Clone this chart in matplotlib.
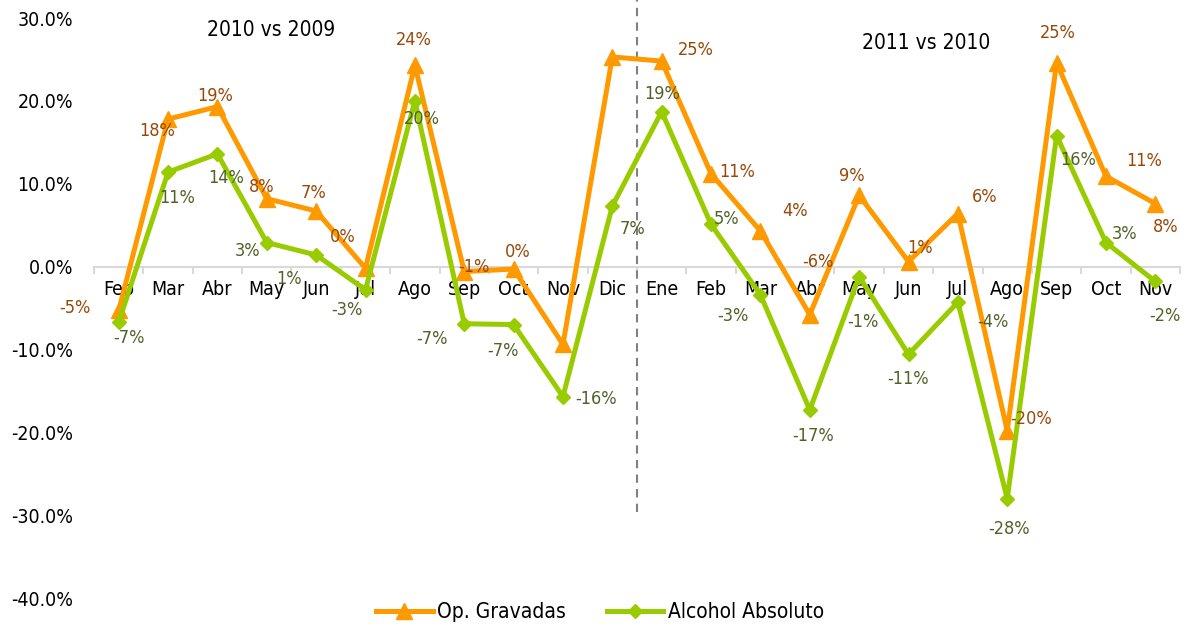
import matplotlib
matplotlib.use("Agg")
import matplotlib.pyplot as plt

plt.rcParams['font.family'] = ['DejaVu Sans']
plt.rcParams['font.stretch'] = 'condensed'

months = ["Feb", "Mar", "Abr", "May", "Jun", "Jul", "Ago", "Sep", "Oct", "Nov", "Dic",
          "Ene", "Feb", "Mar", "Abr", "May", "Jun", "Jul", "Ago", "Sep", "Oct", "Nov"]

# % change vs same month of previous year
op_gravadas = [-5.3, 17.8, 19.3, 8.2, 6.7, -0.2, 24.3, -0.6, -0.3, -9.4, 25.3,
               24.8, 11.2, 4.3, -5.8, 8.6, 0.6, 6.4, -19.8, 24.6, 10.9, 7.6]
alcohol_abs = [-6.7, 11.4, 13.6, 2.9, 1.4, -2.8, 20.0, -6.9, -7.0, -15.7, 7.3,
               18.7, 5.1, -3.4, -17.3, -1.2, -10.6, -4.3, -28.0, 15.8, 2.9, -1.8]

y_ticks = [-40, -30, -20, -10, 0, 10, 20, 30]
period_titles = ["2010 vs 2009", "2011 vs 2010"]

# label offsets in pixels (dx, dy downwards), None = no label
orange_off = [(-44, -2), (-11, 12), (-2, -11), (-5, -12), (-3, -18), (-23, -31),
              (-1, -25), (10, -5), (4, -17), None, None, (34, -11), (26, -2),
              (35, -20), (8, -53), (-7, -19), (12, -14), (27, -17), (24, -12),
              (1, -30), (38, -15), (10, 23)]
green_off = [(10, 16), (9, 26), (9, 24), (-19, 8), (-27, 24), (-19, 20), (7, 18),
             (-32, 15), (-11, 26), (33, 2), (20, 23), (1, -18), (16, -5), (-27, 21),
             (3, 26), (4, 45), (0, 25), (35, 20), (2, 30), (22, 24), (19, -9), (10, 35)]

ORANGE = "#FF9900"
GREEN = "#99CC00"
ORANGE_TXT = "#984807"
GREEN_TXT = "#4F6228"

W, H = 1189, 626
fig = plt.figure(figsize=(W / 100, H / 100), dpi=100)
ax = fig.add_axes([94 / W, 1 - 598 / H, (1180 - 94) / W, (598 - 18) / H])

x = list(range(len(months)))
l1, = ax.plot(x, op_gravadas, color=ORANGE, lw=3.6, marker="^", markersize=11,
              label="Op. Gravadas", zorder=3, clip_on=False)
l2, = ax.plot(x, alcohol_abs, color=GREEN, lw=3.6, marker="D", markersize=7.5,
              label="Alcohol Absoluto", zorder=4, clip_on=False)


def lab(v):
    return "%d%%" % int(round(v))


for xi, v, off in zip(x, op_gravadas, orange_off):
    if off is None:
        continue
    ax.annotate(lab(v), (xi, v), xytext=(off[0], -off[1]), textcoords="offset pixels",
                ha="center", va="center", fontsize=13, color=ORANGE_TXT, zorder=5)
for xi, v, off in zip(x, alcohol_abs, green_off):
    ax.annotate(lab(v), (xi, v), xytext=(off[0], -off[1]), textcoords="offset pixels",
                ha="center", va="center", fontsize=13, color=GREEN_TXT, zorder=5)

ax.set_xlim(-0.5, len(months) - 0.5)
ax.set_ylim(-40, 30)

for s in ["top", "right", "left"]:
    ax.spines[s].set_visible(False)
ax.spines["bottom"].set_position(("data", 0))
ax.spines["bottom"].set_color("#D9D9D9")
ax.spines["bottom"].set_linewidth(1.5)

ax.set_xticks(x)
ax.set_xticklabels(months, fontsize=14)
ax.set_xticks([i - 0.5 for i in range(len(months) + 1)], minor=True)
ax.tick_params(axis="x", which="major", length=0, pad=10)
ax.tick_params(axis="x", which="minor", length=5, width=1.5, color="#D9D9D9", direction="out")

ax.set_yticks(y_ticks)
ax.set_yticklabels(["%.1f%%" % v for v in y_ticks], fontsize=14)
ax.tick_params(axis="y", length=0, pad=15)

# separator between the two periods
ax.plot([10.5, 10.5], [-29.6, 32.2], color="#808080", lw=1.5, dashes=(4, 3),
        clip_on=False, zorder=2)

ax.text(3.08, 28.55, period_titles[0], ha="center", va="center", fontsize=15)
ax.text(16.35, 27.0, period_titles[1], ha="center", va="center", fontsize=15)

fig.legend(handles=[l1, l2], loc="center", bbox_to_anchor=(600 / W, 1 - 612 / H),
           ncol=2, frameon=False, fontsize=15, handlelength=2.7, columnspacing=2.0,
           handletextpad=0.2)

fig.savefig("out.png", dpi=100)
